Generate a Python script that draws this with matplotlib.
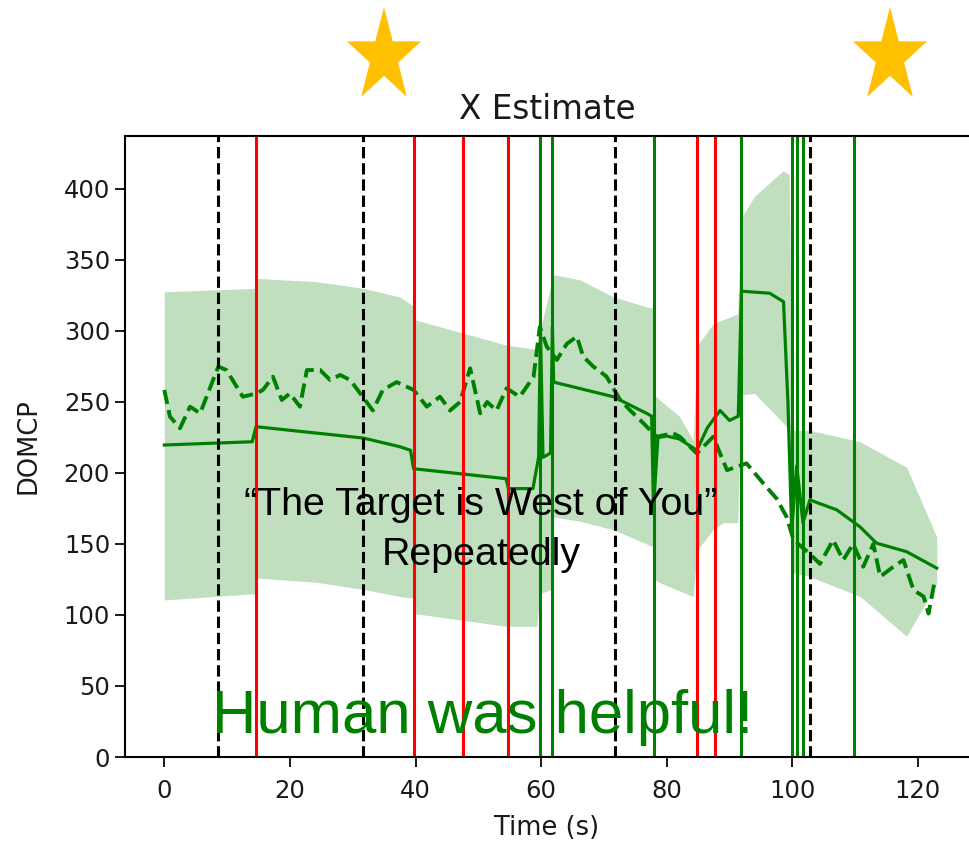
import matplotlib
matplotlib.use("Agg")
import matplotlib.pyplot as plt
from matplotlib.patches import Polygon
import numpy as np

# ---------------- data ----------------
# estimate (solid line)
est_t = [0, 14.0, 14.6, 31.7, 37.5, 39.2, 39.7, 54.4, 54.8, 58.7, 59.6, 59.9, 60.3, 61.5, 61.8, 62.0,
         71.5, 76.8, 77.6, 77.9, 78.6, 80.0, 82.0, 84.8, 86.5, 88.5, 90.0, 91.4, 91.9, 96.4, 98.6,
         99.3, 99.9, 100.7, 101.7, 102.8, 107.1, 110.8, 113.4, 118.2, 123.0]
est_v = [219.7, 222, 232.6, 224.6, 218.5, 216, 203, 196, 189, 189, 211, 300, 211, 214, 303, 264,
         253.7, 242, 240, 175, 225, 226, 224, 216, 232, 244, 237, 240, 328, 326.6, 320.6,
         250, 160, 205, 165, 181, 174, 162, 150.6, 144.6, 133]

# measurement (dashed line)
meas_t = [0, 0.9, 2.5, 4.1, 5.7, 8.6, 9.9, 12.5, 14.7, 15.7, 17.3, 18.7, 20.0, 21.6, 22.7, 24.8,
          26.4, 28.0, 29.6, 31.2, 33.2, 34.8, 37.0, 39.7, 41.8, 43.9, 45.5, 47.1, 48.7, 50.3,
          51.4, 52.9, 54.5, 56.6, 58.8, 59.8, 60.9, 62.5, 64.1, 65.7, 66.7, 68.3, 70.4, 72.6,
          74.2, 76.3, 78.4, 81.0, 82.1, 84.8, 87.4, 89.6, 92.7, 95.9, 97.5, 99.1, 100.2, 102.8,
          104.4, 106.5, 108.1, 109.7, 111.3, 112.9, 114.0, 116.1, 117.7, 119.3, 120.9, 121.7, 122.7]
meas_v = [258.5, 239.7, 231.5, 246.7, 242, 274.9, 272.5, 253.7, 256, 258.5, 267.8, 251.4, 256,
          246.7, 272.5, 272.5, 265.5, 269, 265.5, 256, 244, 258.5, 264, 258.5, 246.7, 253.7, 244,
          250, 273.7, 242, 250, 244, 259.6, 253.7, 267.8, 303, 289, 279.6, 291, 296, 282, 275, 268,
          251.4, 244, 235, 225.5, 228, 225.5, 213.8, 225.5, 202, 206.8, 190, 182, 169, 152.8, 143,
          136, 152.8, 138.7, 150, 134, 150, 127, 134, 138.7, 117.6, 113, 101, 124.6]

# uncertainty band
band_t = [0, 14.5, 14.7, 24.3, 31.7, 37.5, 39.5, 39.8, 54.5, 59.3, 59.8, 61.7, 62.0, 66.2, 71.5,
          76.8, 77.8, 78.0, 79.0, 82.0, 84.2, 84.9, 87.4, 89.0, 91.3, 91.9, 94.0, 98.6, 99.5,
          100.0, 102.8, 110.8, 118.2, 123.0]
band_lo = [110.6, 115, 126, 123, 118, 113, 112, 101, 92, 92, 115, 118, 169, 166, 160,
           150, 148, 125, 122.5, 117, 113, 146, 160, 165, 165, 255, 256, 235, 230,
           130, 127, 113, 85, 122]
band_hi = [327.6, 330, 337, 334.7, 330, 324, 318, 308, 290, 287, 300, 335, 339.6, 336, 324,
           317, 316, 255, 251, 240, 223, 290, 305, 308, 312, 380, 395, 413, 410,
           230, 230, 222, 204, 155]

# event markers
black_events = [8.6, 31.7, 71.8, 102.8]
red_events = [14.6, 39.7, 47.6, 54.7, 84.9, 87.7]
green_events = [59.8, 61.8, 77.9, 91.9, 99.9, 100.7, 101.7, 109.9]

x_ticks = [0, 20, 40, 60, 80, 100, 120]
y_ticks = [0, 50, 100, 150, 200, 250, 300, 350, 400]

GREEN = "#008000"
TXT = "#1a1a1a"
W, H = 970, 847

# ---------------- figure ----------------
fig = plt.figure(figsize=(W / 100, H / 100), dpi=100)
px_per_unit = 6.28
x0_px = 164.3
ax_left_px, ax_right_px = 124.7, float(W)
x_left = (ax_left_px - x0_px) / px_per_unit
x_right = (ax_right_px - x0_px) / px_per_unit
ax_w_px = ax_right_px - ax_left_px
ax = fig.add_axes([ax_left_px / W, (H - 757) / H, ax_w_px / W, (757 - 136) / H])

ax.fill_between(band_t, band_lo, band_hi, color=GREEN, alpha=0.25, lw=0)
ax.plot(est_t, est_v, color=GREEN, lw=2.3, solid_joinstyle="round")
ax.plot(meas_t, meas_v, color=GREEN, lw=2.8, ls="--")

for x in black_events:
    ax.axvline(x, color="black", lw=2.2, ls="--")
for x in red_events:
    ax.axvline(x, color="red", lw=2.2)
for x in green_events:
    ax.axvline(x, color=GREEN, lw=2.2)

ax.set_xlim(x_left, x_right)
ax.set_ylim(0, 437.3)
ax.set_xticks(x_ticks)
ax.set_yticks(y_ticks)
ax.tick_params(labelsize=17.5, length=7, width=1.4, colors=TXT)
ax.tick_params(axis="x", pad=9)
for s in ax.spines.values():
    s.set_linewidth(1.5)
ax.spines["right"].set_visible(False)
ax.set_xlabel("Time (s)", fontsize=18.5, color=TXT)
ax.xaxis.set_label_coords((547 - ax_left_px) / ax_w_px, -(828 - 757) / 621)
ax.xaxis.label.set_va("center")
ax.set_ylabel("DOMCP", fontsize=18.5, color=TXT, labelpad=16)
ax.set_title("X Estimate", fontsize=23.5, color=TXT, pad=12,
             x=(547 - ax_left_px) / ax_w_px)

# ---------------- overlay text ----------------
fig.text(481 / W, 1 - 515 / H, "\u201cThe Target is West of You\u201d", ha="center", va="baseline",
         fontsize=28.4, family="Liberation Sans", color="black")
fig.text(481 / W, 1 - 565 / H, "Repeatedly", ha="center", va="baseline",
         fontsize=28.4, family="Liberation Sans", color="black")
fig.text(212 / W, 1 - 733 / H, "Human was helpful!", ha="left", va="baseline",
         fontsize=44.4, family="Liberation Sans", color=GREEN)

# ---------------- stars ----------------
def star(cx, cy, w, h):
    pts = []
    for k in range(10):
        ang = np.pi / 2 + k * np.pi / 5
        r = 1.0 if k % 2 == 0 else 0.382
        pts.append((np.cos(ang) * r, np.sin(ang) * r))
    pts = np.array(pts)
    xmin, xmax = pts[:, 0].min(), pts[:, 0].max()
    ymin, ymax = pts[:, 1].min(), pts[:, 1].max()
    px = cx - w / 2 + (pts[:, 0] - xmin) / (xmax - xmin) * w
    py = cy - h / 2 + (pts[:, 1] - ymin) / (ymax - ymin) * h
    return np.column_stack([px / W, py / H])

for cx in (384, 890):
    fig.add_artist(Polygon(star(cx, H - 52, 74, 90), closed=True, transform=fig.transFigure,
                           facecolor="#FFC000", edgecolor="none"))

fig.savefig("out.png", dpi=100)
